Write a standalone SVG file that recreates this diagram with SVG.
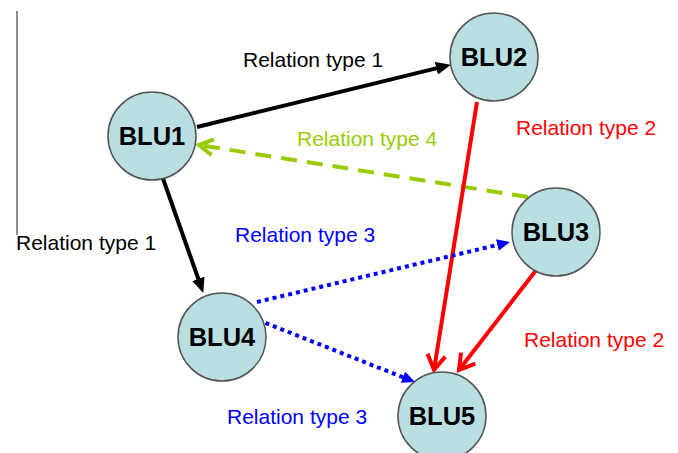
<svg xmlns="http://www.w3.org/2000/svg" width="678" height="453" viewBox="0 0 678 453">
<style>
.node circle{fill:#b9dfe3;stroke:#555;stroke-width:1.5}
.node text{font-family:"Liberation Sans",Arial,sans-serif;font-weight:bold;font-size:25.5px;fill:#000;text-anchor:middle}
.lbl{font-family:"Liberation Sans",Arial,sans-serif;font-size:21px}
.blk{stroke:#000;stroke-width:4;fill:none}
.red{stroke:#ff0000;stroke-width:4;fill:none}
.grn{stroke:#99cc00;stroke-width:4;fill:none;stroke-dasharray:16 10}
.blu{stroke:#0000ff;stroke-width:4;fill:none;stroke-dasharray:4 4}
</style>
<defs>
<marker id="aBlk" markerUnits="userSpaceOnUse" viewBox="0 0 15 13" markerWidth="15" markerHeight="13" refX="6" refY="6.5" orient="auto"><path d="M0,0 L15,6.5 L0,13 z" fill="#000"/></marker>
<marker id="aBlu" markerUnits="userSpaceOnUse" viewBox="0 0 13 12" markerWidth="13" markerHeight="12" refX="5" refY="6" orient="auto"><path d="M0,0 L13,6 L0,12 z" fill="#0000ff"/></marker>
<marker id="aRed" markerUnits="userSpaceOnUse" viewBox="-2 -2 22 22" markerWidth="22" markerHeight="22" refX="15" refY="9" orient="auto"><path d="M0,0 L15,9 L0,18" fill="none" stroke="#ff0000" stroke-width="4"/></marker>
<marker id="aGrn" markerUnits="userSpaceOnUse" viewBox="-2 -2 20 20" markerWidth="20" markerHeight="20" refX="14" refY="8" orient="auto"><path d="M0,0 L14,8 L0,16" fill="none" stroke="#99cc00" stroke-width="4"/></marker>
</defs>
<line x1="17" y1="11" x2="17" y2="235" stroke="#666" stroke-width="1.5"/>
<g id="connectors">
<line class="blk" x1="197" y1="127" x2="442.2" y2="66.9" marker-end="url(#aBlk)"/>
<line class="blk" x1="161" y1="173" x2="200.3" y2="284.5" marker-end="url(#aBlk)"/>
<line class="grn" x1="528" y1="197" x2="199" y2="145" marker-end="url(#aGrn)"/>
<line class="red" x1="477" y1="102" x2="434" y2="370" marker-end="url(#aRed)"/>
<line class="red" x1="537" y1="269" x2="459" y2="370" marker-end="url(#aRed)"/>
<line class="blu" x1="257" y1="302" x2="502.2" y2="243.8" marker-end="url(#aBlu)"/>
<line class="blu" x1="258" y1="320" x2="407.6" y2="379.1" marker-end="url(#aBlu)"/>
</g>
<g id="labels">
<text class="lbl" x="243" y="67" fill="#000">Relation type 1</text>
<text class="lbl" x="16" y="250" fill="#000">Relation type 1</text>
<text class="lbl" x="297" y="146" fill="#99cc00">Relation type 4</text>
<text class="lbl" x="516" y="135" fill="#ff0000">Relation type 2</text>
<text class="lbl" x="524" y="347" fill="#ff0000">Relation type 2</text>
<text class="lbl" x="235" y="242" fill="#0000ff">Relation type 3</text>
<text class="lbl" x="227" y="424" fill="#0000ff">Relation type 3</text>
</g>
<g id="BLU1" class="node"><circle cx="152" cy="136" r="44"/><text x="152" y="145">BLU1</text></g>
<g id="BLU2" class="node"><circle cx="494" cy="57" r="44"/><text x="494" y="66">BLU2</text></g>
<g id="BLU3" class="node"><circle cx="556" cy="232" r="44"/><text x="556" y="241">BLU3</text></g>
<g id="BLU4" class="node"><circle cx="222" cy="337" r="44"/><text x="222" y="346">BLU4</text></g>
<g id="BLU5" class="node"><circle cx="442" cy="416" r="44"/><text x="442" y="425">BLU5</text></g>
</svg>
